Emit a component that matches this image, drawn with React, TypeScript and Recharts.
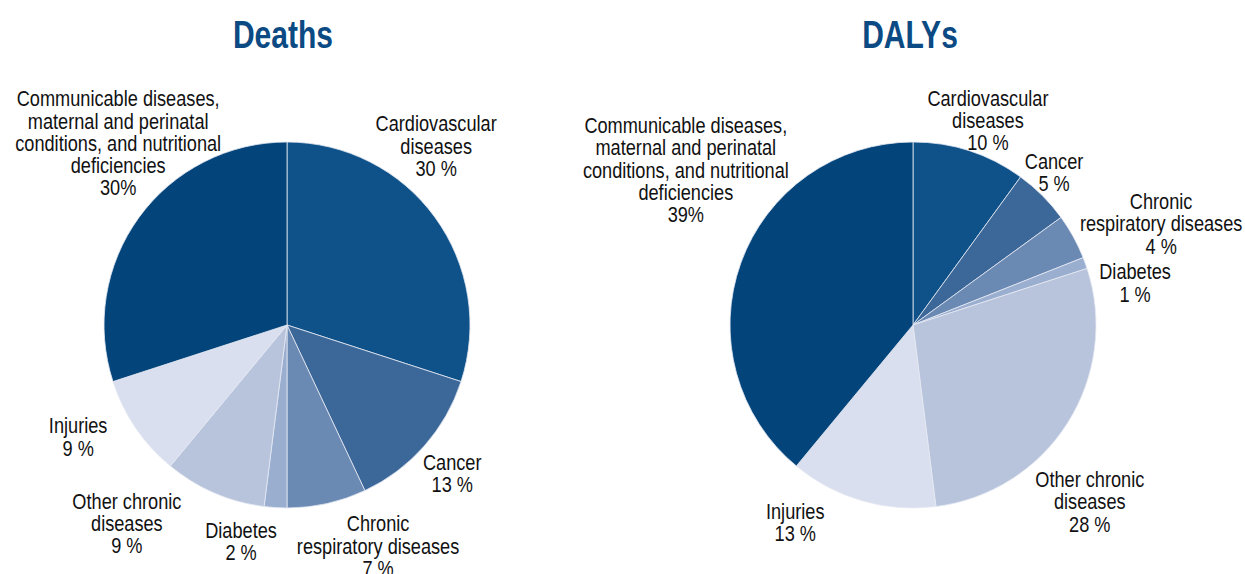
import { Pie, PieChart, Cell } from "recharts"

const categories = [
	"Cardiovascular\ndiseases",
	"Cancer",
	"Chronic\nrespiratory diseases",
	"Diabetes",
	"Other chronic\ndiseases",
	"Injuries",
	"Communicable diseases,\nmaternal and perinatal\nconditions, and nutritional\ndeficiencies",
]
const deathsValues = [30, 13, 7, 2, 9, 9, 30]
const deathsLabels = ["30 %", "13 %", "7 %", "2 %", "9 %", "9 %", "30%"]
const dalysValues = [10, 5, 4, 1, 28, 13, 39]
const dalysLabels = ["10 %", "5 %", "4 %", "1 %", "28 %", "13 %", "39%"]

const colors = ["#0e5289", "#3c6899", "#6a89b3", "#9aaed0", "#b8c4dc", "#d9dfee", "#03447a"]

// label placement: angle clockwise from 12 o'clock, distance from centre
const deathsLabelAngle = [39.8, 131.9, 157.6, 192, 218.9, 241.8, 317.1]
const deathsLabelDist = [233, 222, 239, 221, 255, 237, 248]
const dalysLabelAngle = [20.1, 42.7, 67.8, 79.3, 135, 210.8, 304.3]
const dalysLabelDist = [218, 208, 268, 226, 250, 230, 275]

const FONT = "'Liberation Sans', Arial, sans-serif"
const LINE_H = 22.3
const SQUEEZE = 0.845

const deathsData = categories.map((name, i) => ({ name, value: deathsValues[i], pct: deathsLabels[i] }))
const dalysData = categories.map((name, i) => ({ name, value: dalysValues[i], pct: dalysLabels[i] }))

function makeLabel(angles: number[], dists: number[], pcts: string[]) {
	return (props: any) => {
		const { cx, cy, index } = props
		const a = (angles[index] * Math.PI) / 180
		const x = cx + dists[index] * Math.sin(a)
		const y = cy - dists[index] * Math.cos(a)
		const lines = [...categories[index].split("\n"), pcts[index]]
		const top = y - ((lines.length - 1) * LINE_H) / 2
		return (
			<g transform={`translate(${x} ${top}) scale(${SQUEEZE} 1)`}>
				<text
					x={0}
					y={0}
					textAnchor="middle"
					dominantBaseline="central"
					fontFamily={FONT}
					fontSize={21.5}
					fill="#111"
				>
					{lines.map((l, i) => (
						<tspan key={i} x={0} y={i * LINE_H}>
							{l}
						</tspan>
					))}
				</text>
			</g>
		)
	}
}

const titleStyle: React.CSSProperties = {
	position: "absolute",
	top: 12,
	width: 300,
	textAlign: "center",
	fontFamily: FONT,
	fontWeight: "bold",
	fontSize: 39,
	color: "#0b4a83",
	lineHeight: "46px",
	transform: "scaleX(0.77)",
	transformOrigin: "center",
}

export default function App() {
	return (
		<div style={{ position: "absolute", left: 0, top: 0, width: 1245, height: 574, background: "#fff" }}>
			<div style={{ ...titleStyle, left: 283 - 150 }}>Deaths</div>
			<div style={{ ...titleStyle, left: 910 - 150 }}>DALYs</div>
			<PieChart width={1245} height={574} margin={{ top: 0, right: 0, bottom: 0, left: 0 }}>
				<Pie
					data={deathsData}
					dataKey="value"
					cx={287}
					cy={325}
					outerRadius={183}
					startAngle={90}
					endAngle={-270}
					stroke="#e4e9f2"
					strokeWidth={0.8}
					labelLine={false}
					label={makeLabel(deathsLabelAngle, deathsLabelDist, deathsLabels)}
					isAnimationActive={false}
				>
					{deathsData.map((_, i) => (
						<Cell key={i} fill={colors[i]} />
					))}
				</Pie>
				<Pie
					data={dalysData}
					dataKey="value"
					cx={913}
					cy={325}
					outerRadius={183}
					startAngle={90}
					endAngle={-270}
					stroke="#e4e9f2"
					strokeWidth={0.8}
					labelLine={false}
					label={makeLabel(dalysLabelAngle, dalysLabelDist, dalysLabels)}
					isAnimationActive={false}
				>
					{dalysData.map((_, i) => (
						<Cell key={i} fill={colors[i]} />
					))}
				</Pie>
			</PieChart>
		</div>
	)
}
